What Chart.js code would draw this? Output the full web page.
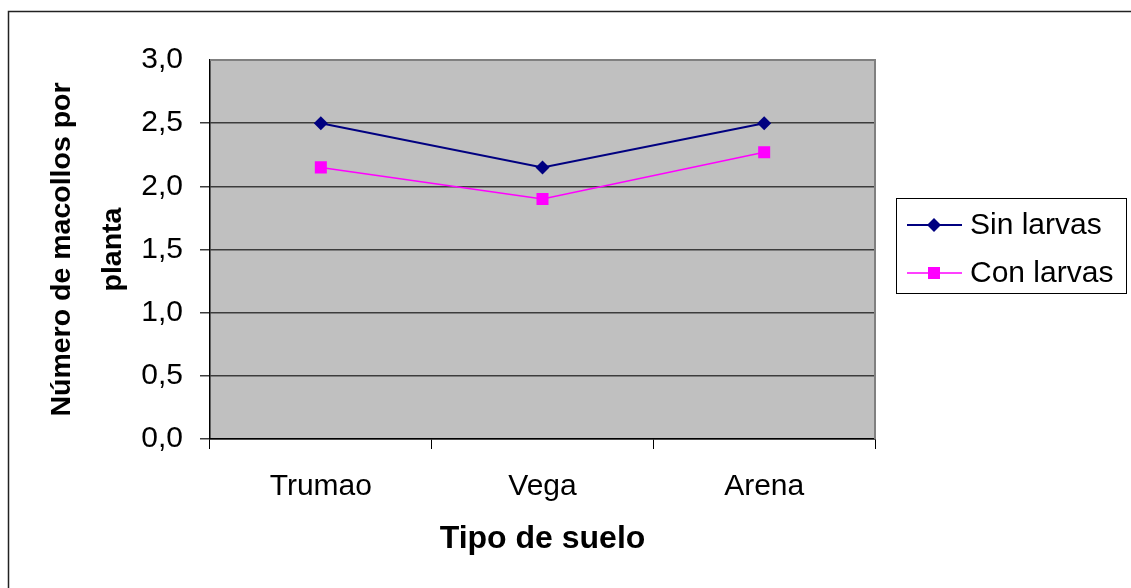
<!DOCTYPE html>
<html>
<head>
<meta charset="utf-8">
<script src="https://cdn.jsdelivr.net/npm/chart.js@4/dist/chart.umd.min.js"></script>
<style>
  html, body { margin: 0; padding: 0; background: #ffffff; }
  canvas { display: block; }
</style>
</head>
<body>
<canvas id="chart" width="1131" height="588"></canvas>
<script>
// Soil types on the category axis
const categories = ['Trumao', 'Vega', 'Arena'];

// Tillers per plant for each treatment
const sinLarvas = [2.5, 2.15, 2.5];
const conLarvas = [2.15, 1.9, 2.27];

const seriesNames = ['Sin larvas', 'Con larvas'];

// Y axis tick labels (0 to 3 by 0.5, decimal comma)
const yTickLabels = ['0,0', '0,5', '1,0', '1,5', '2,0', '2,5', '3,0'];

const yTitle = ['Número de macollos por', 'planta'];
const xTitle = 'Tipo de suelo';

const FONT = "'Liberation Sans', Arial, sans-serif";

// Grey plot background and its frame (grey top/right, axes drawn by the scales)
const plotFrame = {
  id: 'plotFrame',
  beforeDraw(chart) {
    const { ctx, chartArea: a } = chart;
    ctx.save();
    ctx.fillStyle = '#c0c0c0';
    ctx.fillRect(a.left, a.top, a.right - a.left, a.bottom - a.top);
    ctx.restore();
  },
  beforeDatasetsDraw(chart) {
    const { ctx, chartArea: a } = chart;
    ctx.save();
    ctx.strokeStyle = '#808080';
    ctx.lineWidth = 2;
    ctx.beginPath();
    ctx.moveTo(a.left, a.top);
    ctx.lineTo(a.right, a.top);
    ctx.lineTo(a.right, a.bottom);
    ctx.stroke();
    ctx.restore();
  },
  afterDraw(chart) {
    // outer chart border (top and left edges fall inside the canvas)
    const { ctx } = chart;
    ctx.save();
    ctx.strokeStyle = '#222222';
    ctx.lineWidth = 1.5;
    ctx.beginPath();
    ctx.moveTo(8.5, chart.height + 5);
    ctx.lineTo(8.5, 11.5);
    ctx.lineTo(chart.width + 5, 11.5);
    ctx.stroke();
    ctx.restore();
  }
};

// Boxed legend to the right of the plot
const boxLegend = {
  id: 'boxLegend',
  afterDraw(chart) {
    const { ctx } = chart;
    const box = { x: 896.5, y: 198.5, w: 230, h: 95 };
    ctx.save();
    ctx.fillStyle = '#ffffff';
    ctx.fillRect(box.x, box.y, box.w, box.h);
    ctx.strokeStyle = '#000000';
    ctx.lineWidth = 1;
    ctx.strokeRect(box.x, box.y, box.w, box.h);
    ctx.font = '30px ' + FONT;
    ctx.textBaseline = 'middle';
    ctx.textAlign = 'left';
    const rows = [225, 273];
    chart.data.datasets.forEach((ds, i) => {
      const y = rows[i];
      ctx.strokeStyle = ds.borderColor;
      ctx.lineWidth = ds.borderWidth;
      ctx.beginPath();
      ctx.moveTo(907, y);
      ctx.lineTo(962, y);
      ctx.stroke();
      ctx.fillStyle = ds.pointBackgroundColor;
      ctx.strokeStyle = ds.pointBorderColor;
      Chart.helpers.drawPoint(ctx, {
        pointStyle: ds.pointStyle,
        radius: ds.pointRadius,
        borderWidth: 0
      }, 934, y);
      ctx.fillStyle = '#000000';
      ctx.fillText(ds.label, 970, y + 1);
    });
    ctx.restore();
  }
};

new Chart(document.getElementById('chart'), {
  type: 'line',
  data: {
    labels: categories,
    datasets: [
      {
        label: seriesNames[0],
        data: sinLarvas,
        borderColor: '#000080',
        backgroundColor: '#000080',
        borderWidth: 2,
        pointStyle: 'rectRot',
        pointRadius: 7,
        pointBackgroundColor: '#000080',
        pointBorderColor: '#000080',
        pointBorderWidth: 0,
        tension: 0
      },
      {
        label: seriesNames[1],
        data: conLarvas,
        borderColor: '#ff00ff',
        backgroundColor: '#ff00ff',
        borderWidth: 1.5,
        pointStyle: 'rect',
        pointRadius: 8.5,
        pointBackgroundColor: '#ff00ff',
        pointBorderColor: '#ff00ff',
        pointBorderWidth: 0,
        tension: 0
      }
    ]
  },
  options: {
    responsive: false,
    animation: false,
    events: [],
    layout: {
      autoPadding: false,
      padding: { top: 60, right: 256, bottom: 0, left: 0 }
    },
    plugins: {
      legend: { display: false },
      tooltip: { enabled: false },
      title: { display: false }
    },
    scales: {
      x: {
        type: 'category',
        offset: true,
        afterFit(scale) { scale.height = 149; },
        border: { display: true, color: '#000000', width: 1.5 },
        grid: {
          offset: true,
          drawOnChartArea: false,
          drawTicks: true,
          tickLength: 10,
          color: '#000000',
          lineWidth: 1
        },
        ticks: {
          color: '#000000',
          padding: 20,
          font: { family: FONT, size: 30 }
        },
        title: {
          display: true,
          text: xTitle,
          color: '#000000',
          padding: { top: 0, bottom: 30 },
          font: { family: FONT, size: 32, weight: 'bold' }
        }
      },
      y: {
        min: 0,
        max: 3,
        afterFit(scale) { scale.width = 210; },
        border: { display: true, color: '#000000', width: 1.5 },
        grid: {
          drawTicks: true,
          tickLength: 10,
          color: (c) => (c.tick && c.tick.value === 3 ? 'rgba(0,0,0,0)' : '#3c3c3c'),
          lineWidth: 1.5
        },
        ticks: {
          stepSize: 0.5,
          color: '#000000',
          padding: 17,
          font: { family: FONT, size: 30 },
          callback: (v, i) => yTickLabels[i]
        },
        title: {
          display: true,
          text: yTitle,
          color: '#000000',
          padding: { top: 37, bottom: 0 },
          font: { family: FONT, size: 28.5, weight: 'bold', lineHeight: 1.78 }
        }
      }
    }
  },
  plugins: [plotFrame, boxLegend]
});
</script>
</body>
</html>
